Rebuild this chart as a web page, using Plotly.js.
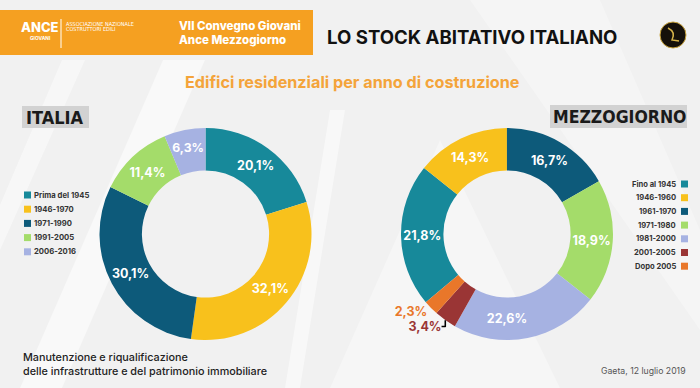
<!DOCTYPE html>
<html>
<head>
<meta charset="utf-8">
<script src="https://cdn.plot.ly/plotly-3.0.1.min.js"></script>
<style>html,body{margin:0;padding:0;background:#f1f1f1;}#chart{width:700px;height:388px;}</style>
</head>
<body>
<div id="chart"></div>
<script>
// ---- Data ----
const italiaLabels = ['Prima del 1945', '1946-1970', '1971-1990', '1991-2005', '2006-2016'];
const italiaValues = [20.1, 32.1, 30.1, 11.4, 6.3];
const italiaColors = ['#17899a', '#f8c11c', '#0d5a7a', '#a4dc6a', '#a6b2e2'];

const mezzLabels = ['Fino al 1945', '1946-1960', '1961-1970', '1971-1980', '1981-2000', '2001-2005', 'Dopo 2005'];
const mezzValues = [21.8, 14.3, 16.7, 18.9, 22.6, 3.4, 2.3];
const mezzColors = ['#17899a', '#f8c11c', '#0d5a7a', '#a4dc6a', '#a6b2e2', '#9a3535', '#e9772a'];

const W = 700, H = 388;
const px = x => x / W;
const py = y => 1 - y / H;
const FONT = 'Inter, "Open Sans", sans-serif';
const COND = '"Liberation Sans Narrow", "DejaVu Sans Condensed", sans-serif';

function domainFor(cx, cy, r) {
  return { x: [px(cx - r), px(cx + r)], y: [py(cy + r), py(cy - r)] };
}

const italia = {
  type: 'pie', labels: italiaLabels, values: italiaValues,
  marker: { colors: italiaColors, line: { width: 0 } },
  hole: 0.6, sort: false, direction: 'clockwise', rotation: 0,
  domain: domainFor(205.5, 234, 106),
  texttemplate: '%{value:.1f}%', textposition: 'inside',
  insidetextorientation: 'horizontal',
  textfont: { family: FONT, size: 12.5, color: '#ffffff', weight: 700 },
  hoverinfo: 'label+percent', showlegend: false
};

const mezzPos = mezzValues.map(v => v < 5 ? 'outside' : 'inside');
const mezzTextColors = mezzValues.map((v, i) => v < 5 ? mezzColors[i] : '#ffffff');
const mezz = {
  type: 'pie', labels: mezzLabels, values: mezzValues,
  marker: { colors: mezzColors, line: { width: 0 } },
  hole: 0.6, sort: false, direction: 'clockwise', rotation: -130,
  domain: domainFor(507, 234, 106),
  texttemplate: '%{value:.1f}%', textposition: mezzPos,
  insidetextorientation: 'horizontal',
  textfont: { family: FONT, size: 12.5, color: mezzTextColors, weight: 700 },
  outsidetextfont: { family: FONT, size: 12.5, color: mezzTextColors, weight: 700 },
  hoverinfo: 'label+percent', showlegend: false
};

const shapes = [];
const annotations = [];
function rect(x0, y0, x1, y1, fill, extra) {
  shapes.push(Object.assign({ type: 'rect', xref: 'paper', yref: 'paper', x0: px(x0), x1: px(x1), y0: py(y1), y1: py(y0), fillcolor: fill, line: { width: 0 }, layer: 'below' }, extra || {}));
}
function poly(pts, fill, op) {
  const d = 'M' + pts.map(p => px(p[0]) + ',' + py(p[1])).join('L') + 'Z';
  shapes.push({ type: 'path', xref: 'paper', yref: 'paper', path: d, fillcolor: fill, opacity: op, line: { width: 0 }, layer: 'below' });
}
function text(t, x, y, size, color, opts) {
  opts = opts || {};
  annotations.push({
    text: t, xref: 'paper', yref: 'paper', x: px(x), y: py(y), showarrow: false,
    xanchor: opts.xanchor || 'left', yanchor: 'middle', align: opts.align || 'left',
    font: { family: opts.family || FONT, size: size, color: color, weight: opts.weight || 400 }
  });
}

// background light bands
poly([[20, 388], [62, 388], [205, 60], [163, 60]], '#ffffff', 0.55);
poly([[0, 205], [0, 250], [85, 60], [62, 60]], '#ffffff', 0.45);
poly([[285, 388], [300, 388], [345, 110], [330, 110]], '#ffffff', 0.5);
poly([[330, 388], [440, 140], [560, 388]], '#ffffff', 0.35);
poly([[470, 0], [600, 0], [700, 230], [700, 330]], '#ffffff', 0.3);

// header
rect(0, 10, 313, 55, '#f5a021');
text('ANCE', 40, 27, 13, '#ffffff', { weight: 800, xanchor: 'center', align: 'center' });
text('GIOVANI', 40, 38, 4.8, '#ffffff', { weight: 700, xanchor: 'center', align: 'center' });
shapes.push({ type: 'line', xref: 'paper', yref: 'paper', x0: px(61), x1: px(61), y0: py(19), y1: py(48), line: { color: '#ffffff', width: 1 } });
text('ASSOCIAZIONE NAZIONALE', 64, 23.5, 5.5, '#ffffff', { family: COND });
text('COSTRUTTORI EDILI', 64, 29.5, 5.5, '#ffffff', { family: COND });
text('VII Convegno Giovani', 177, 26, 11.5, '#ffffff', { weight: 800 });
text('Ance Mezzogiorno', 177, 40, 11.5, '#ffffff', { weight: 800 });
text('LO STOCK ABITATIVO ITALIANO', 325, 37, 18.6, '#111111', { weight: 700 });
shapes.push({ type: 'circle', xref: 'paper', yref: 'paper', x0: px(660), x1: px(686), y0: py(48), y1: py(22), fillcolor: '#15100a', line: { color: '#c9a33c', width: 1 } });
shapes.push({ type: 'path', xref: 'paper', yref: 'paper', path: 'M' + px(668) + ',' + py(28) + 'Q' + px(676) + ',' + py(32) + ' ' + px(672) + ',' + py(40) + 'L' + px(679) + ',' + py(41), line: { color: '#d6b34a', width: 1.5 } });

// subtitle
text('Edifici residenziali per anno di costruzione', 352, 82, 16.2, '#f4a43a', { weight: 700, xanchor: 'center', align: 'center' });

// section labels
rect(22, 106, 89, 128, '#d2d2d2');
text('ITALIA', 55.5, 117.5, 18, '#1a1a1a', { weight: 700, xanchor: 'center', align: 'center', family: COND });
rect(550, 105, 687, 128, '#d2d2d2');
text('MEZZOGIORNO', 619, 117, 17.5, '#1a1a1a', { weight: 700, xanchor: 'center', align: 'center', family: COND });

// legends
const legRowL = 14.2;
italiaLabels.forEach((lab, i) => {
  const y = 195 + i * legRowL;
  rect(24, y - 3.5, 31, y + 3.5, italiaColors[i]);
  text(lab, 32, y, 7.7, '#333333', { weight: 700 });
});
const legRowR = 13.7;
mezzLabels.forEach((lab, i) => {
  const y = 184 + i * legRowR;
  rect(681, y - 3.5, 688, y + 3.5, mezzColors[i]);
  text(lab, 678, y, 7.6, '#333333', { weight: 700, xanchor: 'right', align: 'right' });
});

// footer
text('Manutenzione e riqualificazione', 21, 357, 10.8, '#222222', { weight: 500 });
text('delle infrastrutture e del patrimonio immobiliare', 21, 371, 10.8, '#222222', { weight: 500 });
text('Gaeta, 12 luglio 2019', 688, 371, 8.7, '#555555', { xanchor: 'right', align: 'right' });

const layout = {
  width: W, height: H,
  margin: { l: 0, r: 0, t: 0, b: 0 },
  paper_bgcolor: '#f1f1f1', plot_bgcolor: '#f1f1f1',
  separators: ',.',
  showlegend: false,
  shapes: shapes,
  annotations: annotations
};

Plotly.newPlot('chart', [italia, mezz], layout, { displayModeBar: false, staticPlot: true });
</script>
</body>
</html>
